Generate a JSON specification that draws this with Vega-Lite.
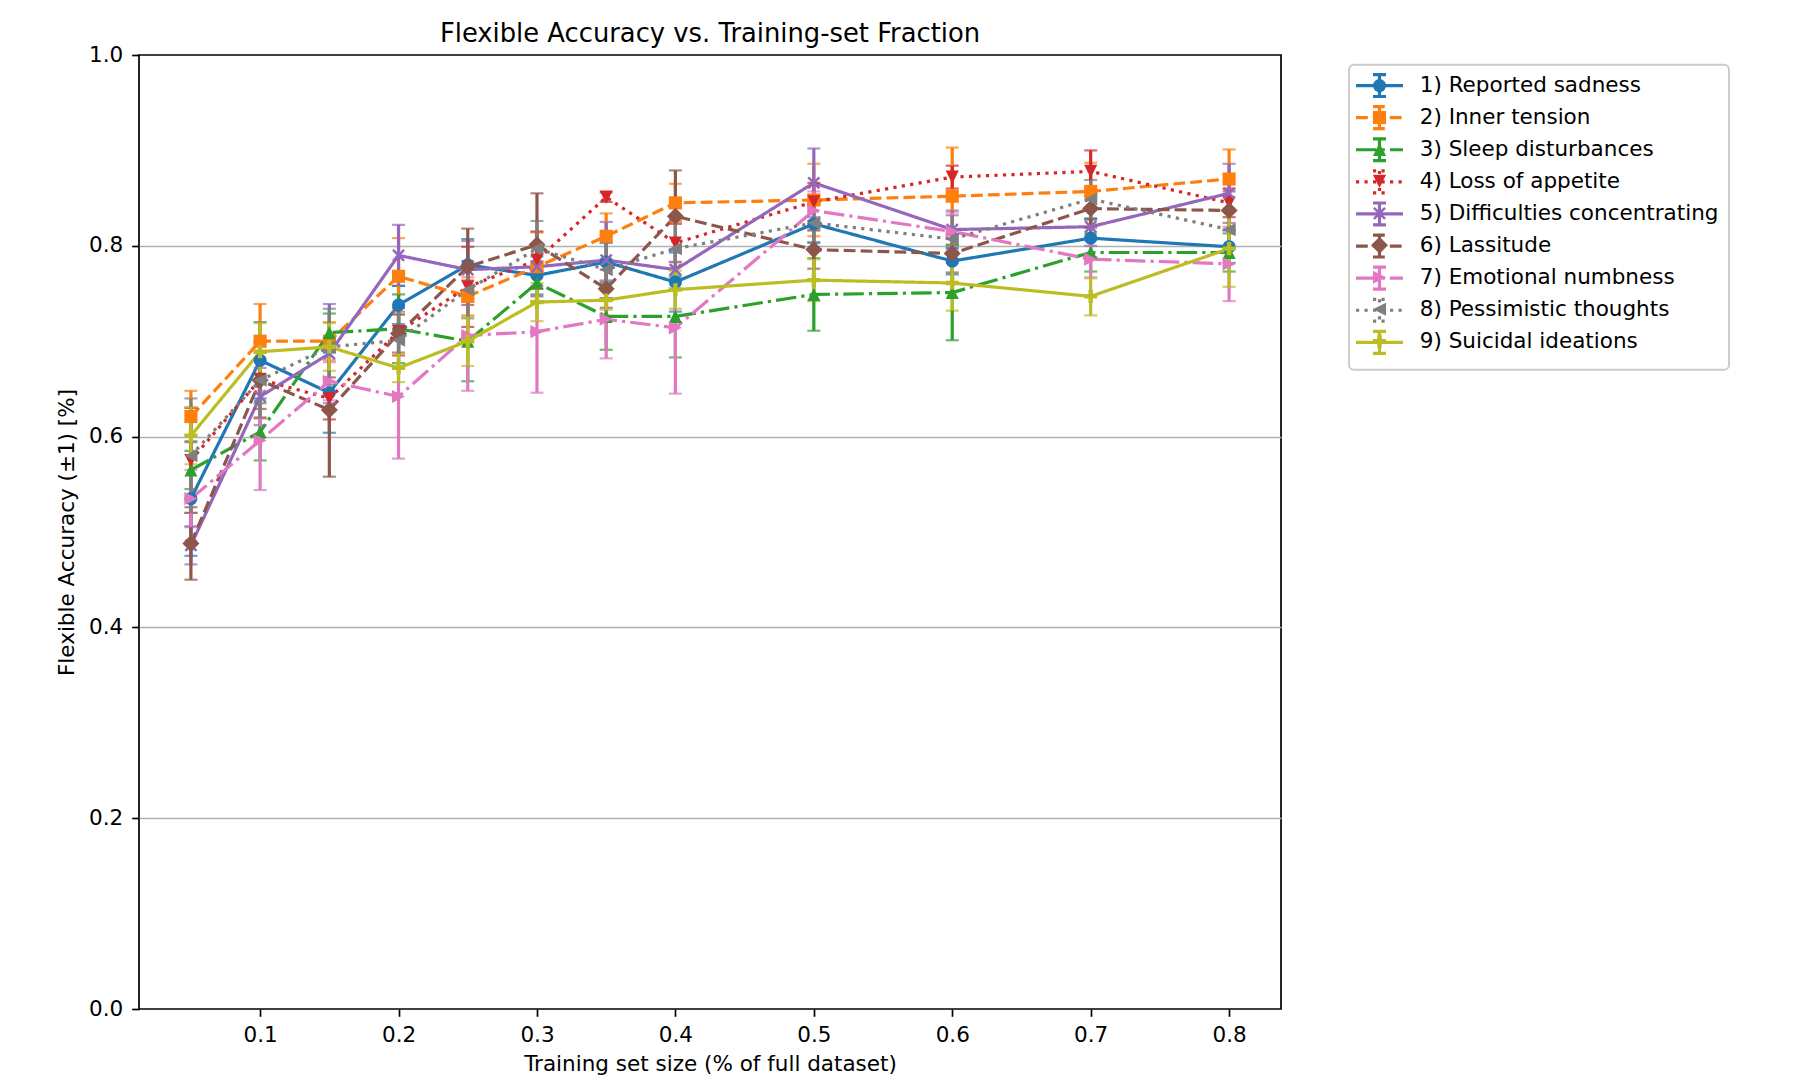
{
  "$schema": "https://vega.github.io/schema/vega-lite/v6.json",
  "width": 1142,
  "height": 954,
  "autosize": {"type": "none"},
  "padding": {"left": 139, "top": 55, "right": 512, "bottom": 81},
  "background": "white",
  "config": {
    "font": "DejaVu Sans",
    "view": {"stroke": "black", "strokeWidth": 1.7},
    "axis": {"labelFont": "DejaVu Sans", "titleFont": "DejaVu Sans", "labelColor": "black", "titleColor": "black", "tickColor": "black", "domain": false},
    "legend": {"strokeWidth": 2}
  },
  "title": {"text": "Flexible Accuracy vs. Training-set Fraction", "font": "DejaVu Sans", "fontSize": 25.8, "fontWeight": "normal", "color": "black", "anchor": "middle", "baseline": "alphabetic", "offset": 13, "dy": 37},
  "data": {"values": [
    {"series": "1) Reported sadness", "frac": 0.05, "acc": 0.535, "err": 0.06},
    {"series": "1) Reported sadness", "frac": 0.1, "acc": 0.680, "err": 0.04},
    {"series": "1) Reported sadness", "frac": 0.15, "acc": 0.646, "err": 0.042},
    {"series": "1) Reported sadness", "frac": 0.2, "acc": 0.738, "err": 0.02},
    {"series": "1) Reported sadness", "frac": 0.25, "acc": 0.780, "err": 0.027},
    {"series": "1) Reported sadness", "frac": 0.3, "acc": 0.769, "err": 0.02},
    {"series": "1) Reported sadness", "frac": 0.35, "acc": 0.783, "err": 0.02},
    {"series": "1) Reported sadness", "frac": 0.4, "acc": 0.762, "err": 0.031},
    {"series": "1) Reported sadness", "frac": 0.5, "acc": 0.823, "err": 0.02},
    {"series": "1) Reported sadness", "frac": 0.6, "acc": 0.784, "err": 0.014},
    {"series": "1) Reported sadness", "frac": 0.7, "acc": 0.808, "err": 0.02},
    {"series": "1) Reported sadness", "frac": 0.8, "acc": 0.799, "err": 0.017},
    {"series": "2) Inner tension", "frac": 0.05, "acc": 0.621, "err": 0.027},
    {"series": "2) Inner tension", "frac": 0.1, "acc": 0.700, "err": 0.039},
    {"series": "2) Inner tension", "frac": 0.15, "acc": 0.700, "err": 0.02},
    {"series": "2) Inner tension", "frac": 0.2, "acc": 0.768, "err": 0.04},
    {"series": "2) Inner tension", "frac": 0.25, "acc": 0.747, "err": 0.02},
    {"series": "2) Inner tension", "frac": 0.3, "acc": 0.778, "err": 0.036},
    {"series": "2) Inner tension", "frac": 0.35, "acc": 0.810, "err": 0.024},
    {"series": "2) Inner tension", "frac": 0.4, "acc": 0.845, "err": 0.02},
    {"series": "2) Inner tension", "frac": 0.5, "acc": 0.848, "err": 0.038},
    {"series": "2) Inner tension", "frac": 0.6, "acc": 0.852, "err": 0.051},
    {"series": "2) Inner tension", "frac": 0.7, "acc": 0.857, "err": 0.03},
    {"series": "2) Inner tension", "frac": 0.8, "acc": 0.870, "err": 0.031},
    {"series": "3) Sleep disturbances", "frac": 0.05, "acc": 0.565, "err": 0.02},
    {"series": "3) Sleep disturbances", "frac": 0.1, "acc": 0.605, "err": 0.03},
    {"series": "3) Sleep disturbances", "frac": 0.15, "acc": 0.709, "err": 0.02},
    {"series": "3) Sleep disturbances", "frac": 0.2, "acc": 0.713, "err": 0.036},
    {"series": "3) Sleep disturbances", "frac": 0.25, "acc": 0.700, "err": 0.042},
    {"series": "3) Sleep disturbances", "frac": 0.3, "acc": 0.761, "err": 0.02},
    {"series": "3) Sleep disturbances", "frac": 0.35, "acc": 0.726, "err": 0.035},
    {"series": "3) Sleep disturbances", "frac": 0.4, "acc": 0.726, "err": 0.043},
    {"series": "3) Sleep disturbances", "frac": 0.5, "acc": 0.749, "err": 0.038},
    {"series": "3) Sleep disturbances", "frac": 0.6, "acc": 0.751, "err": 0.05},
    {"series": "3) Sleep disturbances", "frac": 0.7, "acc": 0.793, "err": 0.02},
    {"series": "3) Sleep disturbances", "frac": 0.8, "acc": 0.793, "err": 0.02},
    {"series": "4) Loss of appetite", "frac": 0.05, "acc": 0.575, "err": 0.055},
    {"series": "4) Loss of appetite", "frac": 0.1, "acc": 0.660, "err": 0.04},
    {"series": "4) Loss of appetite", "frac": 0.15, "acc": 0.640, "err": 0.022},
    {"series": "4) Loss of appetite", "frac": 0.2, "acc": 0.710, "err": 0.025},
    {"series": "4) Loss of appetite", "frac": 0.25, "acc": 0.757, "err": 0.042},
    {"series": "4) Loss of appetite", "frac": 0.3, "acc": 0.785, "err": 0.03},
    {"series": "4) Loss of appetite", "frac": 0.35, "acc": 0.851, "err": 0.005},
    {"series": "4) Loss of appetite", "frac": 0.4, "acc": 0.803, "err": 0.02},
    {"series": "4) Loss of appetite", "frac": 0.5, "acc": 0.846, "err": 0.02},
    {"series": "4) Loss of appetite", "frac": 0.6, "acc": 0.872, "err": 0.012},
    {"series": "4) Loss of appetite", "frac": 0.7, "acc": 0.878, "err": 0.022},
    {"series": "4) Loss of appetite", "frac": 0.8, "acc": 0.845, "err": 0.015},
    {"series": "5) Difficulties concentrating", "frac": 0.05, "acc": 0.486, "err": 0.02},
    {"series": "5) Difficulties concentrating", "frac": 0.1, "acc": 0.642, "err": 0.03},
    {"series": "5) Difficulties concentrating", "frac": 0.15, "acc": 0.687, "err": 0.052},
    {"series": "5) Difficulties concentrating", "frac": 0.2, "acc": 0.790, "err": 0.032},
    {"series": "5) Difficulties concentrating", "frac": 0.25, "acc": 0.775, "err": 0.03},
    {"series": "5) Difficulties concentrating", "frac": 0.3, "acc": 0.778, "err": 0.02},
    {"series": "5) Difficulties concentrating", "frac": 0.35, "acc": 0.785, "err": 0.04},
    {"series": "5) Difficulties concentrating", "frac": 0.4, "acc": 0.775, "err": 0.02},
    {"series": "5) Difficulties concentrating", "frac": 0.5, "acc": 0.866, "err": 0.036},
    {"series": "5) Difficulties concentrating", "frac": 0.6, "acc": 0.817, "err": 0.02},
    {"series": "5) Difficulties concentrating", "frac": 0.7, "acc": 0.820, "err": 0.02},
    {"series": "5) Difficulties concentrating", "frac": 0.8, "acc": 0.855, "err": 0.031},
    {"series": "6) Lassitude", "frac": 0.05, "acc": 0.488, "err": 0.038},
    {"series": "6) Lassitude", "frac": 0.1, "acc": 0.659, "err": 0.03},
    {"series": "6) Lassitude", "frac": 0.15, "acc": 0.628, "err": 0.07},
    {"series": "6) Lassitude", "frac": 0.2, "acc": 0.708, "err": 0.02},
    {"series": "6) Lassitude", "frac": 0.25, "acc": 0.778, "err": 0.04},
    {"series": "6) Lassitude", "frac": 0.3, "acc": 0.801, "err": 0.054},
    {"series": "6) Lassitude", "frac": 0.35, "acc": 0.755, "err": 0.02},
    {"series": "6) Lassitude", "frac": 0.4, "acc": 0.831, "err": 0.048},
    {"series": "6) Lassitude", "frac": 0.5, "acc": 0.796, "err": 0.02},
    {"series": "6) Lassitude", "frac": 0.6, "acc": 0.792, "err": 0.02},
    {"series": "6) Lassitude", "frac": 0.7, "acc": 0.839, "err": 0.02},
    {"series": "6) Lassitude", "frac": 0.8, "acc": 0.837, "err": 0.02},
    {"series": "7) Emotional numbness", "frac": 0.05, "acc": 0.535, "err": 0.03},
    {"series": "7) Emotional numbness", "frac": 0.1, "acc": 0.596, "err": 0.052},
    {"series": "7) Emotional numbness", "frac": 0.15, "acc": 0.658, "err": 0.02},
    {"series": "7) Emotional numbness", "frac": 0.2, "acc": 0.642, "err": 0.065},
    {"series": "7) Emotional numbness", "frac": 0.25, "acc": 0.706, "err": 0.058},
    {"series": "7) Emotional numbness", "frac": 0.3, "acc": 0.710, "err": 0.064},
    {"series": "7) Emotional numbness", "frac": 0.35, "acc": 0.723, "err": 0.041},
    {"series": "7) Emotional numbness", "frac": 0.4, "acc": 0.714, "err": 0.069},
    {"series": "7) Emotional numbness", "frac": 0.5, "acc": 0.837, "err": 0.02},
    {"series": "7) Emotional numbness", "frac": 0.6, "acc": 0.815, "err": 0.02},
    {"series": "7) Emotional numbness", "frac": 0.7, "acc": 0.786, "err": 0.02},
    {"series": "7) Emotional numbness", "frac": 0.8, "acc": 0.781, "err": 0.039},
    {"series": "8) Pessimistic thoughts", "frac": 0.05, "acc": 0.580, "err": 0.06},
    {"series": "8) Pessimistic thoughts", "frac": 0.1, "acc": 0.659, "err": 0.04},
    {"series": "8) Pessimistic thoughts", "frac": 0.15, "acc": 0.694, "err": 0.04},
    {"series": "8) Pessimistic thoughts", "frac": 0.2, "acc": 0.701, "err": 0.03},
    {"series": "8) Pessimistic thoughts", "frac": 0.25, "acc": 0.754, "err": 0.03},
    {"series": "8) Pessimistic thoughts", "frac": 0.3, "acc": 0.797, "err": 0.029},
    {"series": "8) Pessimistic thoughts", "frac": 0.35, "acc": 0.775, "err": 0.03},
    {"series": "8) Pessimistic thoughts", "frac": 0.4, "acc": 0.797, "err": 0.03},
    {"series": "8) Pessimistic thoughts", "frac": 0.5, "acc": 0.824, "err": 0.02},
    {"series": "8) Pessimistic thoughts", "frac": 0.6, "acc": 0.807, "err": 0.025},
    {"series": "8) Pessimistic thoughts", "frac": 0.7, "acc": 0.849, "err": 0.02},
    {"series": "8) Pessimistic thoughts", "frac": 0.8, "acc": 0.817, "err": 0.02},
    {"series": "9) Suicidal ideations", "frac": 0.05, "acc": 0.601, "err": 0.03},
    {"series": "9) Suicidal ideations", "frac": 0.1, "acc": 0.689, "err": 0.03},
    {"series": "9) Suicidal ideations", "frac": 0.15, "acc": 0.694, "err": 0.025},
    {"series": "9) Suicidal ideations", "frac": 0.2, "acc": 0.672, "err": 0.015},
    {"series": "9) Suicidal ideations", "frac": 0.25, "acc": 0.700, "err": 0.026},
    {"series": "9) Suicidal ideations", "frac": 0.3, "acc": 0.741, "err": 0.02},
    {"series": "9) Suicidal ideations", "frac": 0.35, "acc": 0.743, "err": 0.01},
    {"series": "9) Suicidal ideations", "frac": 0.4, "acc": 0.754, "err": 0.02},
    {"series": "9) Suicidal ideations", "frac": 0.5, "acc": 0.764, "err": 0.022},
    {"series": "9) Suicidal ideations", "frac": 0.6, "acc": 0.761, "err": 0.029},
    {"series": "9) Suicidal ideations", "frac": 0.7, "acc": 0.747, "err": 0.02},
    {"series": "9) Suicidal ideations", "frac": 0.8, "acc": 0.797, "err": 0.04}
  ]},
  "layer": [
    {
      "mark": {"type": "line", "strokeWidth": 3.2, "strokeCap": "butt"},
      "encoding": {
        "x": {"field": "frac", "type": "quantitative", "title": "Training set size (% of full dataset)",
              "scale": {"domain": [0.0125, 0.8375], "nice": false, "zero": false},
              "axis": {"values": [0.1, 0.2, 0.3, 0.4, 0.5, 0.6, 0.7, 0.8], "format": ".1f", "labelFontSize": 21.5, "titleFontSize": 21.5, "titleFontWeight": "normal", "tickSize": 7.3, "tickWidth": 1.7, "labelPadding": 8, "titlePadding": 8, "grid": false, "labelFlush": false}},
        "y": {"field": "acc", "type": "quantitative", "title": "Flexible Accuracy (±1) [%]",
              "scale": {"domain": [0, 1], "nice": false, "zero": false},
              "axis": {"values": [0, 0.2, 0.4, 0.6, 0.8, 1.0], "format": ".1f", "labelFontSize": 21.5, "titleFontSize": 21.5, "titleFontWeight": "normal", "tickSize": 7.3, "tickWidth": 1.7, "labelPadding": 9, "titlePadding": 10, "grid": true, "gridWidth": 1.7,
                       "gridColor": {"condition": {"test": "datum.value <= 0.001 || datum.value >= 0.999", "value": "transparent"}, "value": "#b0b0b0"}, "labelFlush": false}},
        "color": {"field": "series", "type": "nominal",
                  "scale": {"domain": ["1) Reported sadness", "2) Inner tension", "3) Sleep disturbances", "4) Loss of appetite", "5) Difficulties concentrating", "6) Lassitude", "7) Emotional numbness", "8) Pessimistic thoughts", "9) Suicidal ideations"],
                            "range": ["#1f77b4", "#ff7f0e", "#2ca02c", "#d62728", "#9467bd", "#8c564b", "#e377c2", "#7f7f7f", "#bcbd22"]},
                  "legend": {"orient": "none", "legendX": 1210, "legendY": 9.8, "title": null,
                             "symbolType": "M-2.765,0L2.765,0M0,-1.29L0,1.29M-0.765,-1.29L0.765,-1.29M-0.765,1.29L0.765,1.29",
                             "symbolSize": 289, "symbolStrokeWidth": 3.2, "labelFontSize": 21.5, "labelFont": "DejaVu Sans", "labelColor": "black", "labelLimit": 0,
                             "padding": 10, "rowPadding": -3.9, "symbolOffset": 9.75, "labelOffset": 29.5,
                             "strokeColor": "#cccccc", "cornerRadius": 5}},
        "strokeDash": {"field": "series", "type": "nominal",
                       "scale": {"domain": ["1) Reported sadness", "2) Inner tension", "3) Sleep disturbances", "4) Loss of appetite", "5) Difficulties concentrating", "6) Lassitude", "7) Emotional numbness", "8) Pessimistic thoughts", "9) Suicidal ideations"],
                                 "range": [[1, 0], [11.8, 5.1], [20.5, 5.1, 3.2, 5.1], [3.2, 5.3], [1, 0], [11.8, 5.1], [20.5, 5.1, 3.2, 5.1], [3.2, 5.3], [1, 0]]}}
      }
    },
    {
      "mark": {"type": "errorbar", "ticks": {"size": 13, "thickness": 2.2}, "rule": {"strokeWidth": 3.2}},
      "encoding": {
        "x": {"field": "frac", "type": "quantitative", "title": "Training set size (% of full dataset)"},
        "y": {"field": "acc", "type": "quantitative", "title": "Flexible Accuracy (±1) [%]"},
        "yError": {"field": "err"},
        "color": {"field": "series", "type": "nominal", "legend": null,
                  "scale": {"domain": ["1) Reported sadness", "2) Inner tension", "3) Sleep disturbances", "4) Loss of appetite", "5) Difficulties concentrating", "6) Lassitude", "7) Emotional numbness", "8) Pessimistic thoughts", "9) Suicidal ideations"]}}
      }
    },
    {
      "mark": {"type": "point", "filled": true, "opacity": 1, "size": 172, "strokeWidth": 0},
      "encoding": {
        "x": {"field": "frac", "type": "quantitative", "title": "Training set size (% of full dataset)"},
        "y": {"field": "acc", "type": "quantitative", "title": "Flexible Accuracy (±1) [%]"},
        "fill": {"field": "series", "type": "nominal",
                 "scale": {"range": ["#1f77b4", "#ff7f0e", "#2ca02c", "#d62728", "#9467bd", "#8c564b", "#e377c2", "#7f7f7f", "#bcbd22"]},
                 "legend": {"orient": "none", "legendX": 1210, "legendY": 9.8, "title": null,
                            "symbolSize": 172, "symbolStrokeWidth": 0, "symbolOpacity": 1, "labelFontSize": 21.5, "labelFont": "DejaVu Sans", "labelColor": "transparent", "labelLimit": 0,
                            "padding": 10, "rowPadding": 8.95, "symbolOffset": 9.75, "labelOffset": 29.5}},
        "shape": {"field": "series", "type": "nominal",
                  "scale": {"range": ["circle", "square", "M0,-1L1,1L-1,1Z", "M0,1L1,-1L-1,-1Z", "M-0.713,0.984L0,0.271L0.713,0.984L0.984,0.713L0.271,0L0.984,-0.713L0.713,-0.984L0,-0.271L-0.713,-0.984L-0.984,-0.713L-0.271,0L-0.984,0.713Z", "M0,-1.3L1.3,0L0,1.3L-1.3,0Z", "M1,0L-1,-1L-1,1Z", "M-1,0L1,-1L1,1Z", "M-0.333,-1L0.333,-1L0.333,-0.333L1,-0.333L1,0.333L0.333,0.333L0.333,1L-0.333,1L-0.333,0.333L-1,0.333L-1,-0.333L-0.333,-0.333Z"]}}
      }
    }
  ]
}
